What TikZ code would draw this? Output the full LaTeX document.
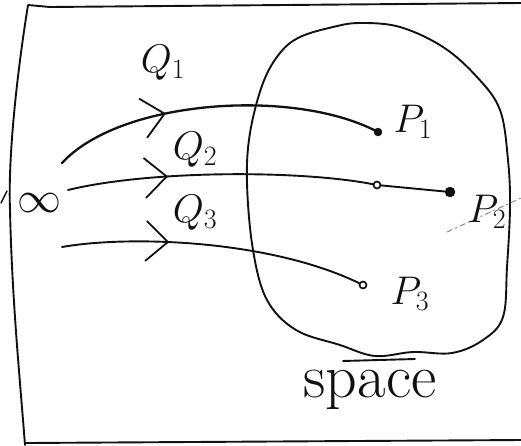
\documentclass[tikz,border=0pt]{standalone}
\usepackage{fix-cm}
\usepackage{xcolor}
\usepackage{tikz}
\usepackage{amsmath}
\usetikzlibrary{arrows.meta,decorations.markings,positioning}
\definecolor{SketchInk}{HTML}{111111}
\definecolor{SketchGrey}{HTML}{8A8A8A}
\tikzset{
  ink/.style={
    draw=SketchInk,
    line width=1.9pt,
    line cap=round,
    line join=round
  },
  pathline/.style={
    ink,
    postaction={decorate},
    decoration={markings,
      mark=at position #1 with {\arrow{Straight Barb[length=22pt,width=40pt,line width=1.8pt]}}}
  },
  pathline/.default=0.33,
  handlabel/.style={
    text=SketchInk,
    inner sep=0pt,
    font=\fontsize{40}{40}\selectfont
  },
  fulldot/.style={circle,fill=SketchInk,draw=SketchInk,inner sep=0pt,minimum size=#1},
  fulldot/.default=8pt,
  opendot/.style={circle,fill=white,draw=SketchInk,line width=1.7pt,inner sep=0pt,minimum size=7pt}
}

\begin{document}
\begin{tikzpicture}[x=1pt,y=-1pt]
  \useasboundingbox (0,0) rectangle (521,445);

  % frame (runs off the right edge)
  \draw[ink] (521,3) -- (50,7) -- (28,5) .. controls (16,80) and (8,160) .. (10,210)
    .. controls (12,300) and (20,380) .. (25,445);
  \draw[ink] (25,443) -- (521,440);
  \draw[ink,line width=1.4pt] (1,203) -- (7,191);

  % the region
  \draw[ink] plot[smooth cycle,tension=0.6] coordinates {
    (280,53) (300,37) (333,27) (360,23) (400,27) (443,47) (477,77) (500,110)
    (508,160) (510,207) (507,267) (503,317) (483,340) (452,353) (413,352)
    (375,356) (340,345) (296,330) (267,300) (253,250) (247,183) (250,133) (263,83)};
  \draw[ink] (343,361) -- (415,359);

  % end points
  \coordinate (q1s) at (62,163);
  \coordinate (q2s) at (68,190);
  \coordinate (q3s) at (62,247);
  \node[fulldot] (p1) at (378,132) {};
  \node[opendot] (m2) at (377,185) {};
  \node[fulldot=10pt] (p2) at (450,192) {};
  \node[opendot] (p3) at (363,285) {};

  \draw[pathline=0.355,line width=2.3pt] (q1s) .. controls (120,100) and (290,88) .. (p1);
  \draw[pathline=0.33] (q2s) .. controls (150,170) and (300,170) .. (m2);
  \draw[ink] (m2) -- (p2);
  \draw[pathline=0.355] (q3s) .. controls (130,235) and (270,240) .. (p3);

  \draw[SketchGrey,line width=1pt,dash pattern=on 6pt off 3pt on 2pt off 3pt] (447,232) -- (521,198);

  % labels
  \node[handlabel,font=\fontsize{44}{44}\selectfont] (inf) at (39,203) {$\infty$};
  \node[handlabel] (lq1) at (163,63) {$Q_1$};
  \node[handlabel] (lq2) at (195,150) {$Q_2$};
  \node[handlabel] (lq3) at (195,213) {$Q_3$};
  \node[handlabel] (lp1) at (413,122) {$P_1$};
  \node[handlabel] (lp2) at (487,212) {$P_2$};
  \node[handlabel] (lp3) at (410,294) {$P_3$};
  \node[handlabel,font=\fontsize{62}{62}\selectfont] (lspace) at (370,390) {space};
\end{tikzpicture}
\end{document}
